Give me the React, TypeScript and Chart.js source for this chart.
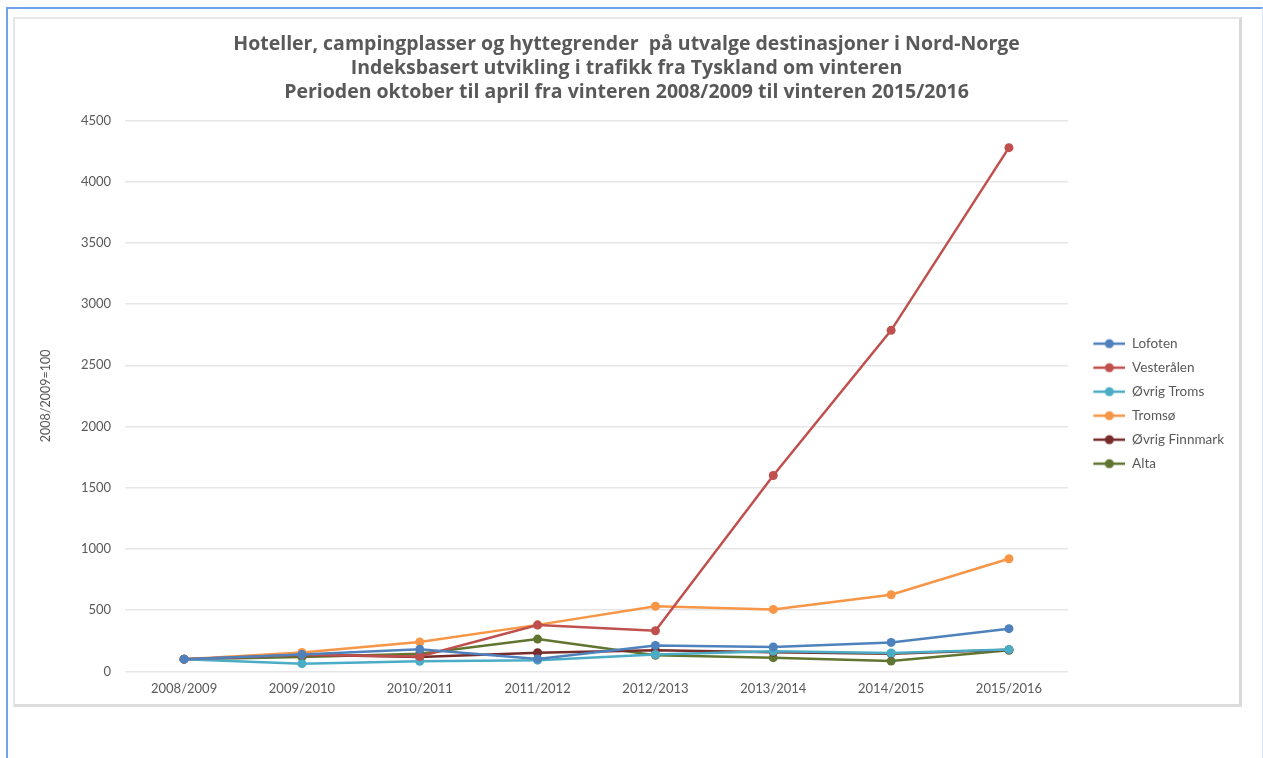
import React, { useEffect, useRef } from "react";
import { Chart, registerables } from "chart.js";

Chart.register(...registerables);

const categories = [
  "2008/2009",
  "2009/2010",
  "2010/2011",
  "2011/2012",
  "2012/2013",
  "2013/2014",
  "2014/2015",
  "2015/2016",
];

const lofoten = [100, 138, 180, 102, 212, 200, 237, 349];
const vesteralen = [100, 135, 122, 378, 332, 1600, 2785, 4277];
const ovrigTroms = [100, 63, 83, 92, 138, 165, 150, 178];
const tromso = [100, 155, 240, 380, 532, 506, 626, 920];
const ovrigFinnmark = [100, 136, 118, 153, 172, 157, 145, 177];
const alta = [100, 118, 145, 264, 131, 112, 84, 172];

const seriesNames = ["Lofoten", "Vesterålen", "Øvrig Troms", "Tromsø", "Øvrig Finnmark", "Alta"];
const seriesValues = [lofoten, vesteralen, ovrigTroms, tromso, ovrigFinnmark, alta];
const seriesColors = ["#4F81BD", "#C0504D", "#4BACC6", "#F79646", "#772C2A", "#5F7530"];

const titleLines = [
  "Hoteller, campingplasser og hyttegrender  på utvalge destinasjoner i Nord-Norge",
  "Indeksbasert utvikling i trafikk fra Tyskland om vinteren",
  "Perioden oktober til april fra vinteren 2008/2009 til vinteren 2015/2016",
];

const yAxisTitle = "2008/2009=100";

const FONT = "Lato, 'Open Sans', sans-serif";
const TITLE_FONT = "'Open Sans', Lato, sans-serif";
const TEXT_GRAY = "#595959";

// Legend marker: short line with a dot, with transparent space on the left
const LEGEND_GAP = 15;
const LEGEND_LINE = 32;
function legendMarker(color: string): HTMLCanvasElement {
  const c = document.createElement("canvas");
  c.width = LEGEND_GAP + LEGEND_LINE;
  c.height = 12;
  const ctx = c.getContext("2d")!;
  ctx.strokeStyle = color;
  ctx.lineWidth = 2.5;
  ctx.beginPath();
  ctx.moveTo(LEGEND_GAP, 6);
  ctx.lineTo(LEGEND_GAP + LEGEND_LINE, 6);
  ctx.stroke();
  ctx.fillStyle = color;
  ctx.beginPath();
  ctx.arc(LEGEND_GAP + LEGEND_LINE / 2, 6, 4.5, 0, Math.PI * 2);
  ctx.fill();
  return c;
}

export default function App() {
  const canvasRef = useRef<HTMLCanvasElement | null>(null);

  useEffect(() => {
    if (!canvasRef.current) return;
    const markers = seriesColors.map(legendMarker);
    const chart = new Chart(canvasRef.current, {
      type: "line",
      data: {
        labels: categories,
        datasets: seriesNames.map((name, i) => ({
          label: name,
          data: seriesValues[i],
          borderColor: seriesColors[i],
          backgroundColor: seriesColors[i],
          borderWidth: 2.5,
          pointRadius: 4.5,
          pointHoverRadius: 4.5,
          pointBorderWidth: 0,
          pointBackgroundColor: seriesColors[i],
          tension: 0,
          fill: false,
        })),
      },
      options: {
        animation: false,
        responsive: false,
        maintainAspectRatio: false,
        layout: { padding: { left: 4, right: 5, top: 13.5, bottom: -3 } },
        plugins: {
          title: {
            display: true,
            text: titleLines,
            color: TEXT_GRAY,
            font: { family: TITLE_FONT, size: 19.5, weight: "bold", lineHeight: 1.22 },
            padding: { top: 0, bottom: 16.5 },
          },
          legend: {
            position: "right",
            align: "center",
            fullSize: false,
            // empty spacer title nudges the entries down a little
            title: {
              display: true,
              text: " ",
              font: { size: 1, lineHeight: 1 },
              padding: { top: 7, bottom: 7.5 },
            },
            labels: {
              usePointStyle: true,
              pointStyleWidth: LEGEND_GAP + LEGEND_LINE,
              boxHeight: 12,
              padding: 10.5,
              color: TEXT_GRAY,
              font: { family: FONT, size: 13.5 },
              generateLabels: (ch) =>
                ch.data.datasets.map((ds, i) => ({
                  text: ds.label as string,
                  fillStyle: seriesColors[i],
                  strokeStyle: seriesColors[i],
                  lineWidth: 0,
                  pointStyle: markers[i],
                  hidden: false,
                  datasetIndex: i,
                  fontColor: TEXT_GRAY,
                })),
            },
          },
          tooltip: { enabled: false },
        },
        scales: {
          x: {
            offset: true,
            grid: { display: false, drawTicks: false },
            border: { display: false },
            ticks: {
              color: TEXT_GRAY,
              font: { family: FONT, size: 13 },
              padding: 10,
              maxRotation: 0,
            },
          },
          y: {
            min: 0,
            max: 4500,
            ticks: {
              stepSize: 500,
              color: TEXT_GRAY,
              font: { family: FONT, size: 13 },
              padding: 14,
              callback: (v) => String(v),
            },
            grid: { color: "#e6e6e6", lineWidth: 1.5, drawTicks: false },
            border: { display: false },
            title: {
              display: true,
              text: yAxisTitle,
              color: TEXT_GRAY,
              font: { family: FONT, size: 12.5 },
              padding: { top: 19, bottom: 14 },
            },
          },
        },
      },
    });
    return () => chart.destroy();
  }, []);

  return (
    <div
      style={{
        position: "absolute",
        left: 6,
        top: 7,
        width: 1257,
        height: 751,
        borderLeft: "2px solid #6fa4ec",
        borderTop: "2px solid #6fa4ec",
        borderRight: "1px solid #dbe8f8",
        boxSizing: "border-box",
        background: "#ffffff",
      }}
    >
      <div
        style={{
          position: "absolute",
          left: 5,
          top: 8,
          width: 1229,
          height: 690,
          borderTop: "2px solid #e6e6e6",
          borderLeft: "2px solid #e6e6e6",
          borderRight: "3px solid #d9d9d9",
          borderBottom: "3px solid #dedede",
          boxSizing: "border-box",
        }}
      >
        <canvas ref={canvasRef} width={1224} height={685} style={{ display: "block" }} />
      </div>
    </div>
  );
}
